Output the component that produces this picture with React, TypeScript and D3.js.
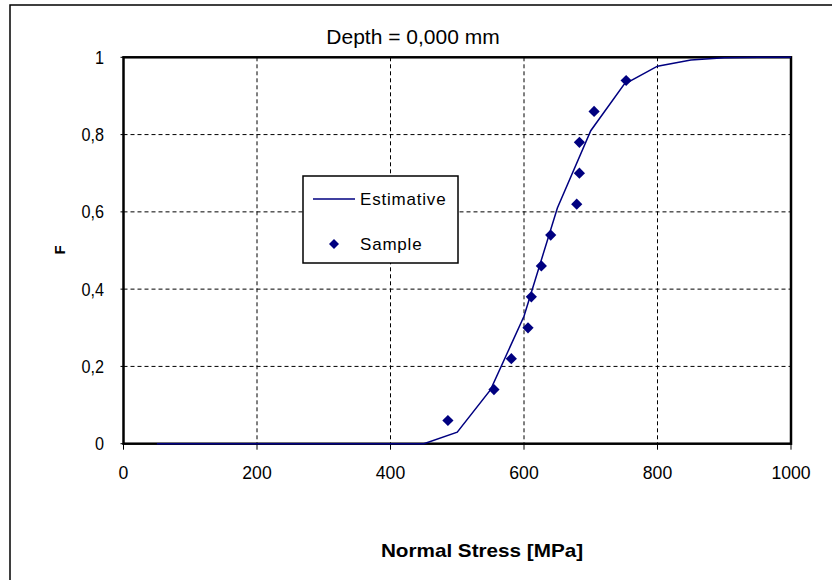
import React from "react";
import * as d3 from "d3";

const estStress = [50, 100, 150, 200, 250, 300, 350, 400, 450, 500, 550, 600, 650, 700, 750, 800, 850, 900, 950, 1000];
const estF = [0, 0, 0, 0, 0, 0, 0, 0, 0, 0.03, 0.14, 0.33, 0.61, 0.81, 0.93, 0.977, 0.993, 0.999, 1, 1];

const sampleStress = [486, 555, 581, 606, 611, 626, 640, 679, 683, 683, 705, 753];
const sampleF = [0.06, 0.14, 0.22, 0.3, 0.38, 0.46, 0.54, 0.62, 0.7, 0.78, 0.86, 0.94];

const xTicks = [0, 200, 400, 600, 800, 1000];
const yTicks = [0, 0.2, 0.4, 0.6, 0.8, 1];

const title = "Depth = 0,000 mm";
const xLabel = "Normal Stress [MPa]";
const yLabel = "F";
const legendLine = "Estimative";
const legendPoint = "Sample";

const NAVY = "#000080";
const FONT = "'Liberation Sans', Arial, sans-serif";

function SText({ x, y, sx = 1, anchor = "middle", size, weight = "normal", children, spacing = 0 }: any) {
  return (
    <text
      transform={`translate(${x},${y}) scale(${sx},1)`}
      textAnchor={anchor}
      fontSize={size}
      fontWeight={weight}
      fontFamily={FONT}
      letterSpacing={spacing}
      fill="#000"
    >
      {children}
    </text>
  );
}

export default function App() {
  const W = 832, H = 580;
  const left = 123.5, right = 791, top = 57.3, bottom = 443.7;
  const x = d3.scaleLinear().domain([0, 1000]).range([left, right]);
  const y = d3.scaleLinear().domain([0, 1]).range([bottom, top]);
  const line = d3.line<number>().x((d, i) => x(estStress[i])).y((d) => y(d));
  const fmt = (v: number) => String(Math.round(v * 10) / 10).replace(".", ",");
  const diamond = (cx: number, cy: number, r: number) =>
    `M${cx},${cy - r}L${cx + r},${cy}L${cx},${cy + r}L${cx - r},${cy}Z`;

  return (
    <svg width={W} height={H} style={{ position: "absolute", left: 0, top: 0, display: "block" }}>
      <rect x={0} y={0} width={W} height={H} fill="#fff" />
      <rect x={10} y={5} width={W + 20} height={H + 20} fill="none" stroke="#000" strokeWidth={1.5} />
      {/* grid */}
      {xTicks.slice(1, -1).map((t) => (
        <line key={"gx" + t} x1={x(t)} x2={x(t)} y1={top} y2={bottom} stroke="#000" strokeWidth={1} strokeDasharray="4,3" />
      ))}
      {yTicks.slice(1, -1).map((t) => (
        <line key={"gy" + t} x1={left} x2={right} y1={y(t)} y2={y(t)} stroke="#000" strokeWidth={1} strokeDasharray="4,3" />
      ))}
      {/* ticks */}
      {xTicks.map((t) => (
        <line key={"tx" + t} x1={x(t)} x2={x(t)} y1={bottom} y2={bottom + 6} stroke="#000" strokeWidth={1} />
      ))}
      {yTicks.map((t) => (
        <line key={"ty" + t} x1={left - 3} x2={left} y1={y(t)} y2={y(t)} stroke="#000" strokeWidth={1} />
      ))}
      {/* plot border */}
      <rect x={left} y={top} width={right - left} height={bottom - top} fill="none" stroke="#000" strokeWidth={2.5} />
      {/* estimative line */}
      <path d={line(estF) || ""} fill="none" stroke={NAVY} strokeWidth={1.5} />
      {/* samples */}
      {sampleF.map((f, i) => (
        <path key={"s" + i} d={diamond(x(sampleStress[i]), y(f), 5.6)} fill={NAVY} />
      ))}
      {/* tick labels */}
      {xTicks.map((t) => (
        <SText key={"lx" + t} x={x(t)} y={479} size={18} sx={0.98}>
          {t}
        </SText>
      ))}
      {yTicks.map((t) => (
        <SText key={"ly" + t} x={104} y={y(t) + 6.5} size={18} sx={0.9} anchor="end">
          {fmt(t)}
        </SText>
      ))}
      {/* title & labels */}
      <SText x={413} y={44} size={20} sx={1.05}>{title}</SText>
      <SText x={482} y={557} size={18} sx={1.15} weight="bold">{xLabel}</SText>
      <text transform={`translate(65,250) rotate(-90)`} textAnchor="middle" fontSize={15} fontWeight="bold" fontFamily={FONT}>
        {yLabel}
      </text>
      {/* legend */}
      <rect x={303} y={176} width={155} height={87} fill="#fff" stroke="#000" strokeWidth={1.5} />
      <line x1={313} x2={355} y1={199} y2={199} stroke={NAVY} strokeWidth={1.5} />
      <SText x={360} y={205} size={17} anchor="start" spacing={0.8}>{legendLine}</SText>
      <path d={diamond(334, 244, 5)} fill={NAVY} />
      <SText x={360} y={250} size={17} anchor="start" spacing={0.8}>{legendPoint}</SText>
    </svg>
  );
}
